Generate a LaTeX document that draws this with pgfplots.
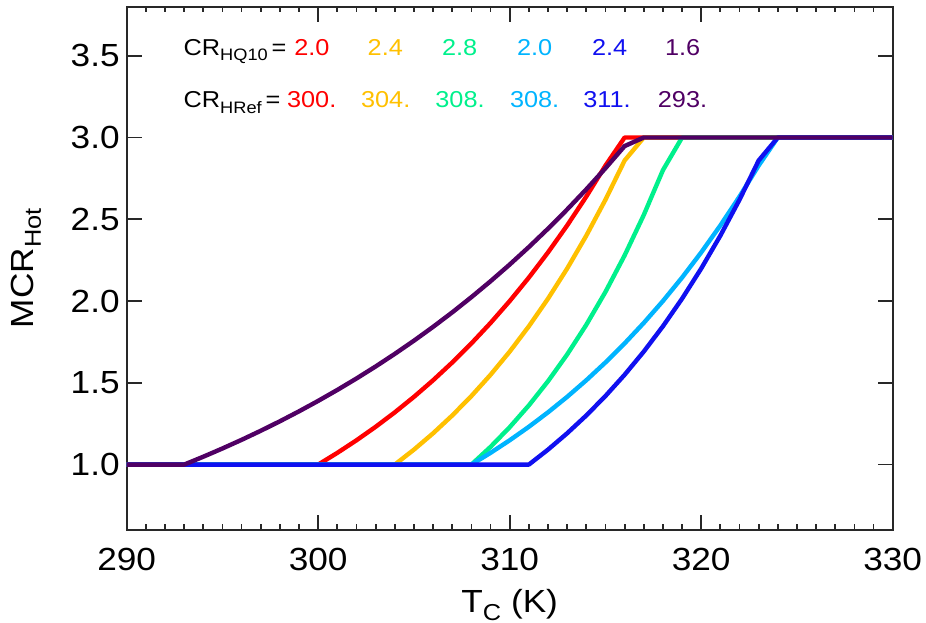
\documentclass[border=0pt]{standalone}
\usepackage{fontspec}
\setmainfont[FakeStretch=1.1]{Liberation Sans}
\usepackage{pgfplots}
\pgfplotsset{compat=1.18}

\definecolor{cRed}{RGB}{255,0,0}
\definecolor{cOrange}{RGB}{255,192,0}
\definecolor{cGreen}{RGB}{0,240,140}
\definecolor{cCyan}{RGB}{0,180,255}
\definecolor{cBlue}{RGB}{16,16,240}
\definecolor{cPurple}{RGB}{80,0,100}
\definecolor{axisgray}{RGB}{40,40,40}

\newcommand{\sub}[1]{\raisebox{-0.45ex}{\scalebox{0.72}{#1}}}

\begin{document}
\begin{tikzpicture}
\path[use as bounding box] (-63.35pt,-46pt) rectangle (399.65pt,265pt);
\begin{axis}[
  scale only axis, width=383pt, height=261.65pt,
  xmin=290, xmax=330, ymin=0.6, ymax=3.8,
  xtick={290,300,...,330}, minor x tick num=9,
  ytick={1.0,1.5,...,3.5},
  yticklabel style={/pgf/number format/.cd, fixed, fixed zerofill, precision=1},
  /pgf/number format/assume math mode=true,
  major tick length=7.5pt, minor tick length=2.8pt,
  every tick/.style={axisgray, line width=0.9pt},
  axis line style={axisgray, line width=1pt},
  tick label style={font=\fontsize{16}{19}\selectfont},
  xticklabel style={yshift=-5.5pt},
  label style={font=\fontsize{16}{19}\selectfont},
  xlabel={T\sub{C} (K)},
  ylabel={MCR\sub{Hot}},
  xlabel style={at={(axis description cs:0.5,-0.1575)}, anchor=base},
  ylabel style={at={(axis description cs:-0.1219,0.5)}, anchor=base},
  every axis plot/.append style={line width=2.2pt, line join=round},
]
% CR_HQ10 = 2.0, CR_HRef = 300
\addplot[cRed] coordinates {(290,1) (300,1) (301,1.0718) (302,1.1487) (303,1.2311)
  (304,1.3195) (305,1.4142) (306,1.5157) (307,1.6245) (308,1.7411) (309,1.8661)
  (310,2.0) (311,2.1435) (312,2.2974) (313,2.4623) (314,2.6390) (315,2.8284)
  (316,3) (330,3)};
% 2.4, 304
\addplot[cOrange] coordinates {(290,1) (304,1) (305,1.0915) (306,1.1914) (307,1.3004)
  (308,1.4193) (309,1.5492) (310,1.6909) (311,1.8456) (312,2.0145) (313,2.1988)
  (314,2.4) (315,2.6196) (316,2.8593) (317,3) (330,3)};
% 2.8, 308
\addplot[cGreen] coordinates {(290,1) (308,1) (309,1.1084) (310,1.2287) (311,1.3619)
  (312,1.5096) (313,1.6733) (314,1.8548) (315,2.0559) (316,2.2789) (317,2.5261)
  (318,2.8) (319,3) (330,3)};
% 2.0, 308
\addplot[cCyan] coordinates {(290,1) (308,1) (309,1.0718) (310,1.1487) (311,1.2311)
  (312,1.3195) (313,1.4142) (314,1.5157) (315,1.6245) (316,1.7411) (317,1.8661)
  (318,2.0) (319,2.1435) (320,2.2974) (321,2.4623) (322,2.6390) (323,2.8284)
  (324,3) (330,3)};
% 2.4, 311
\addplot[cBlue] coordinates {(290,1) (311,1) (312,1.0915) (313,1.1914) (314,1.3004)
  (315,1.4193) (316,1.5492) (317,1.6909) (318,1.8456) (319,2.0145) (320,2.1988)
  (321,2.4) (322,2.6196) (323,2.8593) (324,3) (330,3)};
% 1.6, 293
\addplot[cPurple] coordinates {(290,1) (293,1) (294,1.0481) (295,1.0986) (296,1.1514)
  (297,1.2068) (298,1.2649) (299,1.3258) (300,1.3896) (301,1.4565) (302,1.5266)
  (303,1.6) (304,1.6770) (305,1.7577) (306,1.8423) (307,1.9309) (308,2.0239)
  (309,2.1213) (310,2.2233) (311,2.3303) (312,2.4425) (313,2.56) (314,2.6832)
  (315,2.8123) (316,2.9477) (317,3) (330,3)};

\begin{scope}[every node/.style={anchor=base west, inner sep=0pt, font=\fontsize{11.5}{13}\selectfont}]
\node at (axis cs:292.956,3.5045) {CR\sub{HQ10}\,=};
\node[text=cRed]    at (axis cs:298.736,3.5045) {2.0};
\node[text=cOrange] at (axis cs:302.564,3.5045) {2.4};
\node[text=cGreen]  at (axis cs:306.449,3.5045) {2.8};
\node[text=cCyan]   at (axis cs:310.366,3.5045) {2.0};
\node[text=cBlue]   at (axis cs:314.282,3.5045) {2.4};
\node[text=cPurple] at (axis cs:318.089,3.5045) {1.6};
\node at (axis cs:292.956,3.1824) {CR\sub{HRef}\,=};
\node[text=cRed]    at (axis cs:298.355,3.1824) {300.};
\node[text=cOrange] at (axis cs:302.219,3.1824) {304.};
\node[text=cGreen]  at (axis cs:306.099,3.1824) {308.};
\node[text=cCyan]   at (axis cs:309.995,3.1824) {308.};
\node[text=cBlue]   at (axis cs:313.828,3.1824) {311.};
\node[text=cPurple] at (axis cs:317.718,3.1824) {293.};
\end{scope}
\end{axis}
\end{tikzpicture}
\end{document}
